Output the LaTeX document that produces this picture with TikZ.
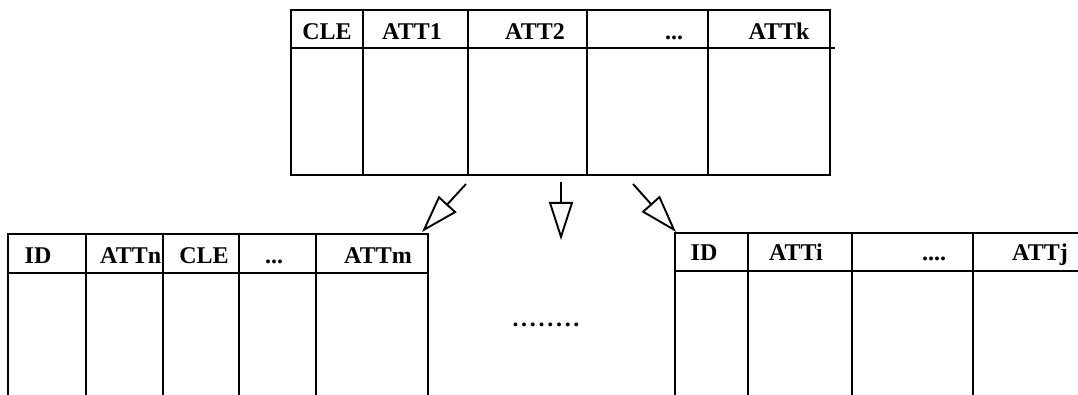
\documentclass[tikz,border=0pt]{standalone}
\usepackage{fontspec}
\setmainfont{Liberation Serif}
\usetikzlibrary{arrows.meta}
\begin{document}
\begin{tikzpicture}[x=1pt,y=-1pt,
  rule/.style={line width=1.6pt},
  hd/.style={font=\fontsize{24}{24}\selectfont\bfseries, inner sep=0pt, anchor=base},
  flow/.style={line width=1.9pt, -{Triangle[open, length=38pt, width=24pt, line width=1.9pt]}}]
\useasboundingbox (0,0) rectangle (1078,395);
% top table
\draw[rule] (291,10) rectangle (830,175);
\draw[rule] (291,48) -- (835,48);
\foreach \x in {363,468,587,708} \draw[rule] (\x,10) -- (\x,175);
\node[hd] (tcle) at (327,40) {CLE};
\node[hd] (tatt1) at (412,40) {ATT1};
\node[hd] (tatt2) at (535,40) {ATT2};
\node[hd] (tdots) at (674,40) {...};
\node[hd] (tattk) at (779,40) {ATTk};
% left table
\draw[rule] (8,395) -- (8,234) -- (428,234) -- (428,395);
\draw[rule] (8,273) -- (428,273);
\begin{scope}
\clip (86,234) rectangle (163,273);
\node[hd, anchor=base west] (lattn) at (100,263) {ATTn};
\end{scope}
\foreach \x in {86,163,239,316} \draw[rule] (\x,234) -- (\x,395);
\node[hd] (lid) at (38,263) {ID};
\node[hd] (lcle) at (204,263) {CLE};
\node[hd] (ldots) at (274,263) {...};
\node[hd] (lattm) at (378,263) {ATTm};
% right table
\draw[rule] (675,395) -- (675,233) -- (1078,233);
\draw[rule] (675,271) -- (1078,271);
\foreach \x in {748,852,973} \draw[rule] (\x,233) -- (\x,395);
\node[hd] (rid) at (704,261) {ID};
\node[hd] (ratti) at (796,261) {ATTi};
\node[hd] (rdots) at (934,261) {....};
\node[hd] (rattj) at (1040,261) {ATTj};
% middle dots
\node[hd] (mdots) at (546,326) {.\kern2.7pt.\kern2.7pt.\kern2.7pt.\kern2.7pt.\kern2.7pt.\kern2.7pt.\kern2.7pt.};
% arrows
\coordinate (a1s) at (466,184); \coordinate (a1e) at (422,232);
\coordinate (a2s) at (561,182); \coordinate (a2e) at (561,240);
\coordinate (a3s) at (633,184); \coordinate (a3e) at (676,232);
\draw[flow] (a1s) -- (a1e);
\draw[flow] (a2s) -- (a2e);
\draw[flow] (a3s) -- (a3e);
\end{tikzpicture}
\end{document}
